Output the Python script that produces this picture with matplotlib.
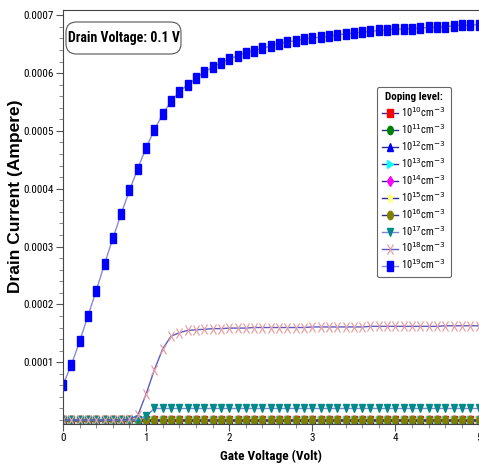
import matplotlib
matplotlib.use("Agg")
import matplotlib.pyplot as plt
from matplotlib.markers import MarkerStyle
from matplotlib.transforms import Affine2D
from matplotlib.ticker import MultipleLocator
from matplotlib.font_manager import fontManager, FontProperties
from matplotlib.patches import FancyBboxPatch
import os

plt.rcParams['font.family'] = ['Liberation Sans', 'DejaVu Sans']

def find_font(patterns):
    files = [f.fname for f in fontManager.ttflist]
    for p in patterns:
        for fn in files:
            if os.path.basename(fn).lower() == p.lower():
                return fn
    return None

REG_FILE = find_font(['LiberationSansNarrow-Regular.ttf', 'RobotoCondensed-Regular.ttf',
                      'NotoSans-ExtraCondensed.ttf', 'NotoSans-Condensed.ttf',
                      'DejaVuSansCondensed.ttf'])
BOLD_FILE = find_font(['LiberationSansNarrow-Bold.ttf', 'RobotoCondensed-Bold.ttf',
                       'NotoSans-ExtraCondensedBold.ttf', 'NotoSans-CondensedBold.ttf',
                       'DejaVuSansCondensed-Bold.ttf'])

def fp(size, bold=False):
    fn = BOLD_FILE if bold else REG_FILE
    if fn:
        return FontProperties(fname=fn, size=size)
    return FontProperties(family='DejaVu Sans', stretch='condensed',
                          weight='bold' if bold else 'normal', size=size)

# gate voltage grid (V)
vg = [round(0.1 * i, 1) for i in range(51)]

# drain current (x1e-4 A) per doping level
i_1e19 = [0.61, 0.95, 1.36, 1.80, 2.24, 2.70, 3.14, 3.57, 3.97, 4.35,
          4.71, 5.02, 5.29, 5.51, 5.68, 5.80, 5.91, 6.02, 6.10, 6.18,
          6.24, 6.30, 6.35, 6.39, 6.43, 6.47, 6.51, 6.54, 6.56, 6.59,
          6.61, 6.62, 6.64, 6.66, 6.68, 6.69, 6.71, 6.72, 6.74, 6.75,
          6.76, 6.76, 6.77, 6.78, 6.79, 6.79, 6.80, 6.82, 6.83, 6.83, 6.84]
i_1e18 = [0.00, 0.00, 0.00, 0.00, 0.00, 0.00, 0.00, 0.00, 0.01, 0.08,
          0.45, 0.87, 1.23, 1.45, 1.51, 1.55, 1.56, 1.57, 1.58, 1.58,
          1.59, 1.59, 1.59, 1.60, 1.60, 1.60, 1.60, 1.60, 1.60, 1.60,
          1.61, 1.61, 1.61, 1.61, 1.61, 1.61, 1.61, 1.62, 1.62, 1.62,
          1.62, 1.62, 1.62, 1.62, 1.62, 1.62, 1.63, 1.63, 1.63, 1.63, 1.63]
i_1e17 = [0.00] * 10 + [0.07] + [0.20] * 40
i_1e16 = [0.00] * 51
i_1e15 = [0.00] * 51
i_1e14 = [0.00] * 51
i_1e13 = [0.00] * 51
i_1e12 = [0.00] * 51
i_1e11 = [0.00] * 51
i_1e10 = [0.00] * 51

exponents = [10, 11, 12, 13, 14, 15, 16, 17, 18, 19]
currents = [i_1e10, i_1e11, i_1e12, i_1e13, i_1e14, i_1e15, i_1e16, i_1e17, i_1e18, i_1e19]
unit = 1e-4
yticks = [1e-4, 2e-4, 3e-4, 4e-4, 5e-4, 6e-4, 7e-4]
ytick_labels = ['0.0001', '0.0002', '0.0003', '0.0004', '0.0005', '0.0006', '0.0007']

styles = {
    10: dict(marker='s', mfc='#ff0000', mec='#ff0000', ms=5.5),
    11: dict(marker='o', mfc='#008000', mec='#008000', ms=6),
    12: dict(marker='^', mfc='#0000ff', mec='#0000ff', ms=6),
    13: dict(marker='>', mfc='#00ffff', mec='#00ffff', ms=6),
    14: dict(marker='D', mfc='#ff00ff', mec='#ff00ff', ms=5),
    15: dict(marker='*', mfc='#ffff80', mec='#ffff80', ms=7),
    16: dict(marker='o', mfc='#808000', mec='#808000', ms=6),
    17: dict(marker='v', mfc='#008b8b', mec='#008b8b', ms=6),
    18: dict(marker='x', mfc='#e8a0a0', mec='#e8a0a0', ms=6.5, mew=0.9),
    19: dict(marker='s', mfc='#0000ff', mec='#0000ff', ms=6.5),
}
line_cols = {e: '#2a2a9a' for e in range(10, 17)}
line_cols[17] = '#8080d8'
line_cols[18] = '#5a5ac8'
line_cols[19] = '#8a8ad8'

fig = plt.figure(figsize=(4.79, 4.66), dpi=100)
ax = fig.add_axes([63 / 479, 42.5 / 466, 415.5 / 479, 414 / 466])

squash = Affine2D().scale(0.68, 1.0)
for e, cur in zip(exponents, currents):
    st = dict(styles[e])
    mk = MarkerStyle(st.pop('marker'), transform=squash)
    y = [c * unit for c in cur]
    ax.plot(vg, y, color=line_cols[e], lw=1.0, marker=mk,
            label=r'10$^{%d}$cm$^{-3}$' % e, **st)

ax.set_xlim(0, 5)
ax.set_ylim(-6e-6, 7.10e-4)
ax.xaxis.set_major_locator(MultipleLocator(1))
ax.xaxis.set_minor_locator(MultipleLocator(0.2))
ax.set_yticks(yticks)
ax.set_yticklabels(ytick_labels)
ax.yaxis.set_minor_locator(MultipleLocator(2e-5))
ax.tick_params(which='major', length=5, width=0.8, color='#555555', pad=1.5)
ax.tick_params(which='minor', length=3, width=0.6, color='#777777')
for lbl in ax.get_xticklabels() + ax.get_yticklabels():
    lbl.set_fontproperties(fp(8))
for sp in ax.spines.values():
    sp.set_color('#444444')
    sp.set_linewidth(0.8)
ax.spines['right'].set_visible(False)

ax.set_xlabel('Gate Voltage (Volt)', fontproperties=fp(9.5, bold=True), labelpad=5)
ax.set_ylabel('Drain Current (Ampere)', fontweight='bold', fontsize=12.5)
ax.yaxis.set_label_coords(-0.097, 0.548)

# rounded annotation box
bx0, by0 = (66 - 63) / 415.5, (423.5 - 54) / 414
bw, bh = (181 - 66) / 415.5, 32 / 414
ax.add_patch(FancyBboxPatch((bx0, by0), bw, bh, boxstyle='round,pad=0,rounding_size=0.025',
                            transform=ax.transAxes, fc='white', ec='#555555', lw=0.8,
                            mutation_aspect=1.0, zorder=5))
ax.text(bx0 + bw / 2, by0 + bh / 2, 'Drain Voltage: 0.1 V', transform=ax.transAxes,
        ha='center', va='center', fontproperties=fp(10, bold=True), zorder=6)

leg = ax.legend(loc='upper left', bbox_to_anchor=(0.756, 0.813), title='Doping level:',
                prop=fp(7.5), fancybox=True, frameon=True,
                edgecolor='#666666', framealpha=1, handlelength=1.5, handletextpad=0.3,
                labelspacing=0.3, borderpad=0.5, borderaxespad=0)
leg.get_title().set_fontproperties(fp(8, bold=True))
leg.get_frame().set_linewidth(0.8)

fig.savefig('out.png', dpi=100)
